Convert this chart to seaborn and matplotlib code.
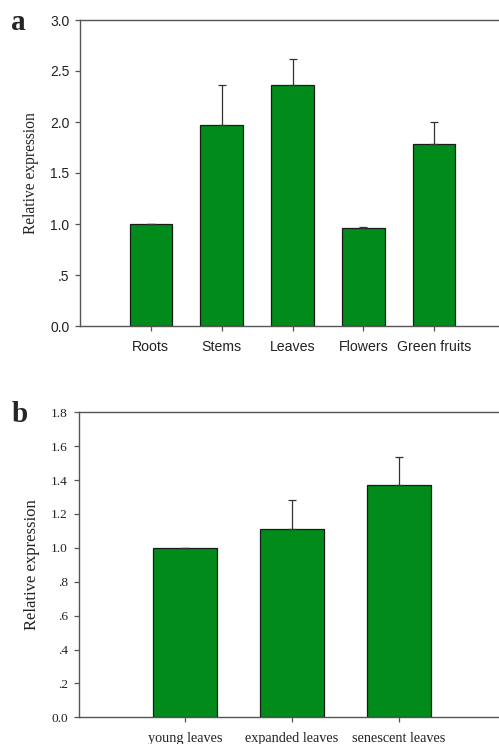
import matplotlib
matplotlib.use("Agg")
import matplotlib.pyplot as plt
import seaborn as sns
import pandas as pd

# Panel a data
organs = ["Roots", "Stems", "Leaves", "Flowers", "Green fruits"]
organ_expr = [1.00, 1.97, 2.36, 0.96, 1.78]
organ_err = [0.00, 0.39, 0.26, 0.01, 0.22]
a_yticks = [0.0, 0.5, 1.0, 1.5, 2.0, 2.5, 3.0]
a_yticklabels = ["0.0", ".5", "1.0", "1.5", "2.0", "2.5", "3.0"]

# Panel b data
stages = ["young leaves", "expanded leaves", "senescent leaves"]
stage_expr = [1.00, 1.11, 1.37]
stage_err = [0.00, 0.175, 0.165]
b_yticks = [0.0, 0.2, 0.4, 0.6, 0.8, 1.0, 1.2, 1.4, 1.6, 1.8]
b_yticklabels = ["0.0", ".2", ".4", ".6", ".8", "1.0", "1.2", "1.4", "1.6", "1.8"]

sns.set_style("white")
GREEN = "#008B1A"
SPINE = "#555555"
SANS = "Liberation Sans"
SERIF = "Liberation Serif"

fig = plt.figure(figsize=(4.99, 7.44), dpi=100)
W, H = 499, 744

def add_axes(left, right, top, bottom):
    return fig.add_axes([left / W, 1 - bottom / H, (right - left) / W, (bottom - top) / H])

def style(ax, xpad, ypad):
    ax.spines["right"].set_visible(False)
    for s in ["left", "top", "bottom"]:
        ax.spines[s].set_color(SPINE)
        ax.spines[s].set_linewidth(1.0)
    ax.tick_params(axis="both", direction="out", length=3.7, width=0.9, color=SPINE,
                   left=True, bottom=True, top=False, right=False)
    ax.tick_params(axis="x", pad=xpad)
    ax.tick_params(axis="y", pad=ypad)

# ---- Panel a ----
axa = add_axes(80, 505, 20, 326)
dfa = pd.DataFrame({"organ": organs, "expr": organ_expr})
sns.barplot(data=dfa, x="organ", y="expr", color=GREEN, width=0.6, edgecolor="#1a1a1a",
            linewidth=0.9, errorbar=None, saturation=1, ax=axa)
axa.errorbar(range(len(organs)), organ_expr, yerr=[[0] * len(organs), organ_err],
             fmt="none", ecolor="#333333", elinewidth=0.9, capsize=3, capthick=0.9)
axa.set_xlim(-1, len(organs))
axa.set_ylim(0, 3.0)
axa.set_yticks(a_yticks)
axa.set_yticklabels(a_yticklabels, fontfamily=SANS, fontsize=10, color="#222222")
axa.set_xticks(range(len(organs)))
axa.set_xticklabels(organs, fontfamily=SANS, fontsize=10.2, color="#222222")
axa.set_xlabel("")
axa.set_ylabel("Relative expression", fontfamily=SERIF, fontsize=11.2, color="#222222", labelpad=8)
style(axa, xpad=6.5, ypad=4)
fig.text(11 / W, 1 - 30 / H, "a", fontfamily=SERIF, fontweight="bold", fontsize=21,
         ha="left", va="baseline")

# ---- Panel b ----
axb = add_axes(78.7, 505.3, 412.3, 717.3)
dfb = pd.DataFrame({"stage": stages, "expr": stage_expr})
sns.barplot(data=dfb, x="stage", y="expr", color=GREEN, width=0.6, edgecolor="#1a1a1a",
            linewidth=0.9, errorbar=None, saturation=1, ax=axb)
axb.errorbar(range(len(stages)), stage_expr, yerr=[[0] * len(stages), stage_err],
             fmt="none", ecolor="#333333", elinewidth=0.9, capsize=3, capthick=0.9)
axb.set_xlim(-1, len(stages))
axb.set_ylim(0, 1.8)
axb.set_yticks(b_yticks)
axb.set_yticklabels(b_yticklabels, fontfamily=SERIF, fontsize=9.6, color="#222222")
axb.set_xticks(range(len(stages)))
axb.set_xticklabels(stages, fontfamily=SERIF, fontsize=10.3, color="#222222")
axb.set_xlabel("")
axb.set_ylabel("Relative expression", fontfamily=SERIF, fontsize=12, color="#222222", labelpad=8)
style(axb, xpad=7, ypad=4)
fig.text(12 / W, 1 - 422 / H, "b", fontfamily=SERIF, fontweight="bold", fontsize=21,
         ha="left", va="baseline")

fig.savefig("out.png", dpi=100, facecolor="white")
